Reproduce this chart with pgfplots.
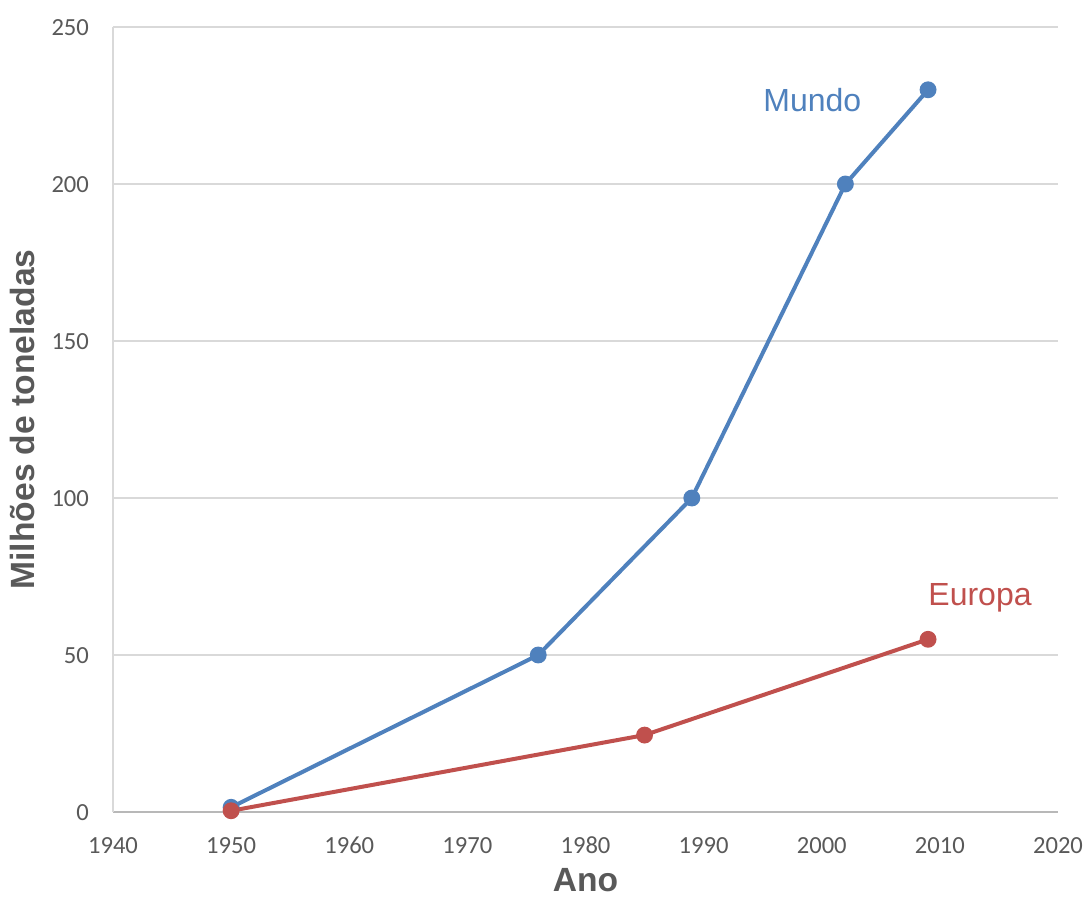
\documentclass[border=0pt]{standalone}
\usepackage{fontspec}
\setmainfont{Liberation Sans}
\newfontfamily\tickfont{Carlito}
\usepackage{pgfplots}
\pgfplotsset{compat=1.18}
\usetikzlibrary{calc}

\definecolor{mundo}{RGB}{79,129,189}
\definecolor{europa}{RGB}{192,80,77}
\definecolor{txtgrey}{RGB}{89,89,89}
\definecolor{gridgrey}{RGB}{217,217,217}

\begin{document}
\begin{tikzpicture}
\begin{axis}[
  scale only axis,
  width=472.5pt, height=392.5pt,
  xmin=1940, xmax=2020, ymin=0, ymax=250,
  xtick={1940,1950,...,2020},
  ytick={0,50,...,250},
  /pgf/number format/1000 sep={},
  /pgf/number format/assume math mode=true,
  tick style={draw=none},
  ymajorgrids,
  grid style={gridgrey, line width=0.75pt},
  axis line style={gridgrey, line width=0.75pt},
  axis x line*=bottom, axis y line*=left,
  x axis line style={-, draw=gridgrey!85!black},
  y axis line style={-},
  tick label style={font=\tickfont\fontsize{12.3}{14}\selectfont, text=txtgrey,
    text height=8.5pt, text depth=0pt},
  xticklabel style={yshift=-8.5pt},
  yticklabel style={xshift=-8.5pt},
  xlabel={Ano},
  ylabel={Milhões de toneladas},
  label style={font=\bfseries\fontsize{16.8}{20}\selectfont, text=txtgrey},
  xlabel style={yshift=-2pt, inner sep=2pt},
  ylabel style={yshift=1.5pt},
  clip=false,
]
\addplot[mundo, line width=2pt, mark=*, mark size=3.2pt, mark options={fill=mundo, draw=mundo}]
  coordinates {(1950,1.5) (1976,50) (1989,100) (2002,200) (2009,230)};
\addplot[europa, line width=2pt, mark=*, mark size=3.2pt, mark options={fill=europa, draw=europa}]
  coordinates {(1950,0.4) (1985,24.5) (2009,55)};
\node[text=mundo, font=\fontsize{16}{19}\selectfont] at (axis cs:1999.2,226.8) {Mundo};
\node[text=europa, font=\fontsize{16}{19}\selectfont] at (axis cs:2013.4,68.2) {Europa};
\coordinate (ll) at (rel axis cs:0,0);
\coordinate (ur) at (rel axis cs:1,1);
\end{axis}
\pgfresetboundingbox
\path ($(ll)+(-56.5pt,-44pt)$) rectangle ($(ur)+(13pt,13.5pt)$);
\end{tikzpicture}
\end{document}
